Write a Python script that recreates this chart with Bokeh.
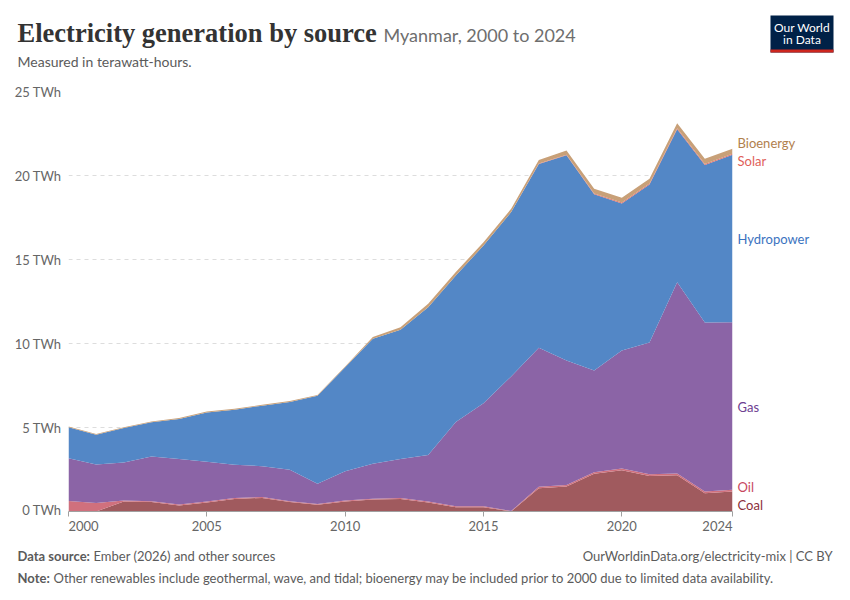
from bokeh.plotting import figure
from bokeh.models import Range1d, Label, BoxAnnotation, FixedTicker, ColumnDataSource
from bokeh.layouts import column, row
from bokeh.embed import file_html
from bokeh.resources import INLINE

# ---------------- data (TWh) ----------------
years = list(range(2000, 2025))
coal = [0.0, 0.0, 0.6, 0.56, 0.36, 0.54, 0.75, 0.81, 0.56, 0.4, 0.6, 0.71, 0.75,
        0.54, 0.26, 0.26, 0.0, 1.39, 1.49, 2.24, 2.46, 2.12, 2.16, 1.09, 1.19]
oil = [0.62, 0.5, 0.05, 0.05, 0.05, 0.05, 0.05, 0.05, 0.05, 0.05, 0.05, 0.05, 0.05,
       0.05, 0.05, 0.05, 0.03, 0.08, 0.08, 0.1, 0.1, 0.1, 0.1, 0.1, 0.1]
gas = [2.55, 2.30, 2.27, 2.66, 2.71, 2.37, 1.98, 1.84, 1.87, 1.20, 1.75, 2.08, 2.32,
       2.78, 5.01, 6.14, 8.01, 8.27, 7.42, 6.05, 7.02, 7.84, 11.39, 10.06, 9.98]
hydro = [1.84, 1.77, 2.05, 2.04, 2.39, 2.94, 3.28, 3.60, 4.04, 5.24, 6.18, 7.44, 7.70,
         8.79, 8.73, 9.38, 9.78, 10.95, 12.22, 10.50, 8.76, 9.41, 9.10, 9.38, 9.96]
solar = [0.0] * 17 + [0.02, 0.03, 0.04, 0.05, 0.05, 0.06, 0.06, 0.06]
bioenergy = [0.05] * 11 + [0.1, 0.15, 0.2, 0.2, 0.2, 0.2, 0.22, 0.25, 0.28, 0.28, 0.28, 0.3, 0.3, 0.3]

series = ["Coal", "Oil", "Gas", "Hydropower", "Solar", "Bioenergy"]
fill_colors = ["#A05A5E", "#D0707D", "#8B64A6", "#5387C6", "#E0706A", "#C8A078"]
label_colors = ["#8B2F3A", "#C7485F", "#6D3E91", "#3B73C0", "#E0605A", "#B1804D"]
label_y = [0.36, 1.43, 6.25, 16.25, 20.89, 21.96]

x_ticks = [2000, 2005, 2010, 2015, 2020, 2024]
y_ticks = [0, 5, 10, 15, 20, 25]
y_tick_labels = ["0 TWh", "5 TWh", "10 TWh", "15 TWh", "20 TWh", "25 TWh"]

FONT = "Lato"
GREY = "#5b5b5b"
W = 848
LEFT, FRAME_W = 68, 664
MAIN_W = LEFT + FRAME_W + 2
TOP_B, FRAME_H, BOT_B = 10, 420, 6
MAIN_H = TOP_B + FRAME_H + BOT_B
HEAD_H, FOOT_H = 81, 81


def blank(width, height, **kw):
    f = figure(width=width, height=height, output_backend="svg", toolbar_location=None,
               x_axis_location=None, y_axis_location=None, min_border=0, **kw)
    f.grid.visible = False
    f.outline_line_color = None
    f.background_fill_color = "white"
    f.border_fill_color = "white"
    return f


def label(f, x, y, text, size, color, font=FONT, style="normal", align="left",
          x_units="screen", y_units="screen", x_offset=0):
    f.add_layout(Label(x=x, y=y, x_units=x_units, y_units=y_units, text=text,
                       x_offset=x_offset, text_align=align, text_baseline="middle",
                       text_font=font, text_font_size=size, text_color=color,
                       text_font_style=style))


# ---------------- main chart ----------------
src = ColumnDataSource(dict(year=years, Coal=coal, Oil=oil, Gas=gas, Hydropower=hydro,
                            Solar=solar, Bioenergy=bioenergy))

p = figure(width=MAIN_W, height=MAIN_H, output_backend="svg", toolbar_location=None,
           x_range=Range1d(2000, 2024), y_range=Range1d(0, 25),
           min_border_left=LEFT, min_border_right=2, min_border_top=TOP_B,
           min_border_bottom=BOT_B)
p.outline_line_color = None
p.background_fill_color = "white"
p.border_fill_color = "white"

p.varea_stack(series, x="year", fill_color=fill_colors, source=src, fill_alpha=1.0)

p.xgrid.visible = False
p.ygrid.grid_line_color = "#dddddd"
p.ygrid.grid_line_dash = "4 4"
p.ygrid.ticker = FixedTicker(ticks=y_ticks[1:])

p.yaxis.ticker = FixedTicker(ticks=y_ticks)
p.yaxis.major_label_overrides = {t: l for t, l in zip(y_ticks, y_tick_labels)}
p.yaxis.axis_line_color = None
p.yaxis.major_tick_line_color = None
p.yaxis.minor_tick_line_color = None
p.yaxis.major_label_text_font = FONT
p.yaxis.major_label_text_font_size = "13px"
p.yaxis.major_label_text_color = "#666666"
p.yaxis.major_label_standoff = 1

# x axis: line and ticks only; its labels are drawn below in the footer strip
p.xaxis.ticker = FixedTicker(ticks=x_ticks)
p.xaxis.major_label_text_font_size = "1px"
p.xaxis.major_label_text_color = None
p.xaxis.major_label_standoff = 0
p.xaxis.axis_line_color = "#a0a0a0"
p.xaxis.major_tick_line_color = "#a0a0a0"
p.xaxis.major_tick_in = 0
p.xaxis.major_tick_out = 5
p.xaxis.minor_tick_line_color = None

# ---------------- right-hand series labels ----------------
side = blank(W - MAIN_W, MAIN_H, x_range=Range1d(0, 1), y_range=p.y_range,
             min_border_top=TOP_B, min_border_bottom=BOT_B)
side.min_border_left = 0
for name, c, yv in zip(series, label_colors, label_y):
    label(side, 3, yv, name, "13px", c, x_units="screen", y_units="data")

# ---------------- header ----------------
head = blank(W, HEAD_H, x_range=Range1d(0, 1), y_range=Range1d(0, 1))
label(head, 17, HEAD_H - 32, "Electricity generation by source", "26.5px", "#333333",
      font="Liberation Serif", style="bold")
label(head, 383, HEAD_H - 34, "Myanmar, 2000 to 2024", "18px", "#6e6e6e")
label(head, 17, HEAD_H - 61, "Measured in terawatt-hours.", "14px", GREY)
head.add_layout(BoxAnnotation(left=770, right=833, top=HEAD_H - 15, bottom=HEAD_H - 52,
                              left_units="screen", right_units="screen", top_units="screen",
                              bottom_units="screen", fill_color="#002147", fill_alpha=1.0,
                              line_color=None))
head.add_layout(BoxAnnotation(left=770, right=833, top=HEAD_H - 49, bottom=HEAD_H - 52,
                              left_units="screen", right_units="screen", top_units="screen",
                              bottom_units="screen", fill_color="#CE261E", fill_alpha=1.0,
                              line_color=None))
label(head, 801.5, HEAD_H - 27, "Our World", "12px", "white", align="center")
label(head, 801.5, HEAD_H - 39, "in Data", "12px", "white", align="center")

# ---------------- footer (x tick labels + notes) ----------------
px_per_year = FRAME_W / (x_ticks[-1] - x_ticks[0])
foot = blank(W, FOOT_H,
             x_range=Range1d(x_ticks[0] - LEFT / px_per_year,
                             x_ticks[-1] + (W - LEFT - FRAME_W) / px_per_year),
             y_range=Range1d(0, 1))
for t in x_ticks:
    align = "left" if t == x_ticks[0] else ("right" if t == x_ticks[-1] else "center")
    label(foot, t, FOOT_H - 8, str(t), "13px", "#666666", align=align, x_units="data")

label(foot, 17, FOOT_H - 38, "Data source:", "13px", GREY, style="bold")
label(foot, 93, FOOT_H - 38, "Ember (2026) and other sources", "13px", GREY)
label(foot, 832, FOOT_H - 38, "OurWorldinData.org/electricity-mix | CC BY", "13px", GREY,
      align="right")
label(foot, 17, FOOT_H - 60, "Note:", "13px", GREY, style="bold")
label(foot, 53, FOOT_H - 60,
      "Other renewables include geothermal, wave, and tidal; bioenergy may be included prior to 2000 due to limited data availability.",
      "13px", GREY)

layout = column(head, row(p, side), foot)
open("out.html", "w").write(file_html(layout, INLINE))
